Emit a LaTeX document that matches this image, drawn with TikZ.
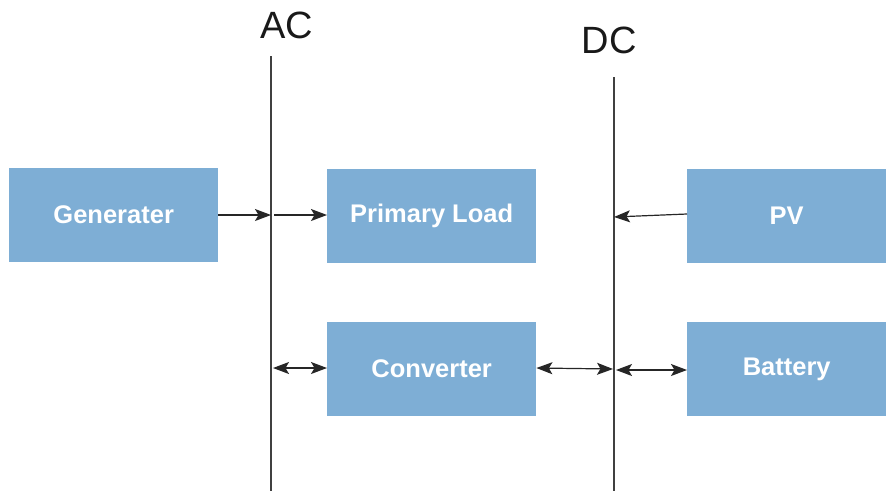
\documentclass[tikz,border=0pt]{standalone}
\usepackage{fontspec}
\setmainfont{Liberation Sans}
\usetikzlibrary{arrows.meta}
\definecolor{boxblue}{RGB}{126,174,213}
\tikzset{
  block/.style={fill=boxblue, draw=none, text=white, font=\fontsize{25.5}{30}\selectfont\bfseries,
    minimum width=209pt, minimum height=94pt, inner sep=0pt, anchor=north west},
  bus/.style={draw=black!75, line width=1.2pt},
  busname/.style={font=\fontsize{38}{44}\selectfont, text=black!90},
  link/.style={draw=black!85, line width=1.2pt, -{Stealth[length=16pt,width=12pt,inset=3.5pt]}},
  dlink/.style={draw=black!85, line width=1.2pt,
    {Stealth[length=16pt,width=12pt,inset=3.5pt]}-{Stealth[length=16pt,width=12pt,inset=3.5pt]}}
}
\begin{document}
\begin{tikzpicture}[x=1pt,y=-1pt]
  \useasboundingbox (0,0) rectangle (886,491);

  % blocks
  \node[block] (gen)  at (9,168)   {Generater};
  \node[block] (load) at (327,169) {Primary Load};
  \node[block, minimum width=199pt] (pv) at (687,169) {PV};
  \node[block] (conv) at (327,322) {Converter};
  \node[block, minimum width=199pt] (bat) at (687,322) {Battery};

  % AC and DC buses
  \coordinate (actop) at (271,56);
  \coordinate (acbot) at (271,491);
  \coordinate (dctop) at (614,77);
  \coordinate (dcbot) at (614,491);
  \draw[bus] (actop) -- (acbot);
  \draw[bus] (dctop) -- (dcbot);
  \node[busname] (ac) at (287,25) {AC};
  \node[busname] (dc) at (609,40) {DC};

  % taps on the buses
  \coordinate (acgen)  at (271,215);
  \coordinate (acload) at (274,215);
  \coordinate (acconv) at (273,368);
  \coordinate (dcpv)   at (614,217);
  \coordinate (dcconv) at (613,369);
  \coordinate (dcbat)  at (616,370);

  % connectors
  \draw[link] (gen.east |- acgen) -- (acgen);
  \draw[link] (acload) -- (load.west |- acload);
  \draw[link] (pv.west |- 0,214) -- (dcpv);
  \draw[dlink] (acconv) -- (conv.west |- acconv);
  \draw[dlink] (conv.east |- 0,368) -- (dcconv);
  \draw[dlink] (dcbat) -- (bat.west |- dcbat);
\end{tikzpicture}
\end{document}
